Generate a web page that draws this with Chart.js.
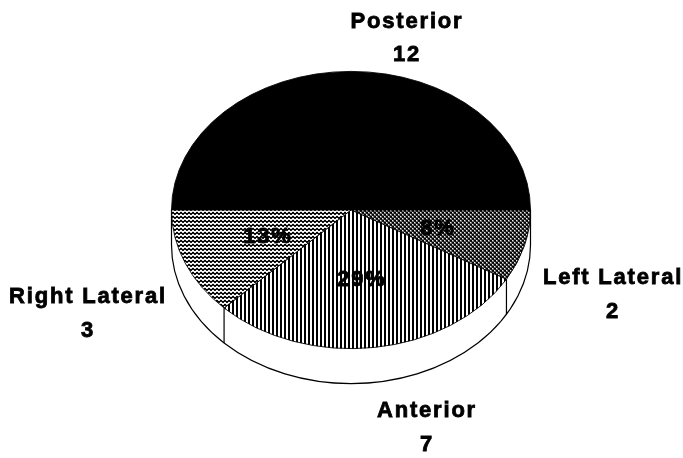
<!DOCTYPE html>
<html>
<head>
<meta charset="utf-8">
<style>
html,body{margin:0;padding:0;background:#fff;}
#wrap{position:relative;width:683px;height:458px;}
#wrap canvas{display:block}
</style>
<script src="https://cdn.jsdelivr.net/npm/chart.js@4"></script>
</head>
<body>
<div id="wrap"><canvas id="c"></canvas></div>
<script>
const categories = ['Posterior', 'Left Lateral', 'Anterior', 'Right Lateral'];
const counts = [12, 2, 7, 3];
const percentShown = [false, true, true, true];

const SQUASH = 139 / 180;
const DEPTH = 35;
const nameAnchors = [[407, 22], [613, 278], [427, 411], [88, 297]];
const countAnchors = [[407, 55], [613, 312], [427, 445], [88, 331]];
const percentAnchors = [null, [438, 229], [362, 280], [268, 237]];

function makePattern(w, h, paint) {
  const t = document.createElement('canvas');
  t.width = w; t.height = h;
  const g = t.getContext('2d');
  g.fillStyle = '#fff'; g.fillRect(0, 0, w, h);
  g.fillStyle = '#000';
  paint(g);
  const p = document.createElement('canvas').getContext('2d').createPattern(t, 'repeat');
  p.setTransform(new DOMMatrix().scale(1, 1 / SQUASH));
  return p;
}
const solid = '#000';
const dither = makePattern(4, 4, g => {
  g.fillRect(0, 0, 4, 4);
  g.fillStyle = '#777'; g.fillRect(0, 0, 2, 2); g.fillRect(2, 2, 2, 2);
  g.fillStyle = '#fff'; g.fillRect(0, 0, 1, 1); g.fillRect(2, 2, 1, 1);
});
const vertical = makePattern(4, 1, g => {
  g.fillRect(0, 0, 2, 1);
});
const wavy = makePattern(4, 4, g => {
  g.fillRect(0, 1, 4, 1);
  g.fillRect(0, 0, 2, 1);
  g.fillRect(2, 2, 2, 1);
});
const fills = [solid, dither, vertical, wavy];

const squashPlugin = {
  id: 'squash',
  beforeDatasetsDraw(chart) {
    const ctx = chart.ctx;
    const arcs = chart.getDatasetMeta(0).data;
    const { x, y, outerRadius: r } = arcs[0].getProps(['x', 'y', 'outerRadius'], true);
    const ry = r * SQUASH;
    ctx.save();
    ctx.fillStyle = '#fff';
    ctx.strokeStyle = '#000';
    ctx.lineWidth = 1.2;
    ctx.beginPath();
    ctx.moveTo(x - r, y);
    ctx.lineTo(x - r, y + DEPTH);
    ctx.ellipse(x, y + DEPTH, r, ry, 0, Math.PI, 0, true);
    ctx.lineTo(x + r, y);
    ctx.closePath();
    ctx.fill();
    ctx.stroke();
    arcs.forEach(a => {
      const end = a.getProps(['endAngle'], true).endAngle;
      const c = Math.cos(end), s = Math.sin(end);
      if (s > 0.01 && Math.abs(c) > 0.01 && end < Math.PI) {
        const px = x + r * c, py = y + ry * s;
        ctx.beginPath();
        ctx.moveTo(px, py);
        ctx.lineTo(px, py + DEPTH);
        ctx.stroke();
      }
    });
    ctx.restore();
    ctx.save();
    ctx.translate(0, y);
    ctx.scale(1, SQUASH);
    ctx.translate(0, -y);
  },
  afterDatasetsDraw(chart) {
    const ctx = chart.ctx;
    ctx.restore();
    const total = counts.reduce((a, b) => a + b, 0);
    ctx.save();
    ctx.fillStyle = '#000';
    ctx.textAlign = 'center';
    ctx.textBaseline = 'middle';
    ctx.font = 'bold 22px "Liberation Sans", Arial, sans-serif';
    ctx.letterSpacing = '1.8px';
    ctx.lineWidth = 0.8;
    ctx.strokeStyle = '#000';
    categories.forEach((name, i) => {
      ctx.fillText(name, nameAnchors[i][0], nameAnchors[i][1]);
      ctx.strokeText(name, nameAnchors[i][0], nameAnchors[i][1]);
      ctx.fillText(String(counts[i]), countAnchors[i][0], countAnchors[i][1]);
      ctx.strokeText(String(counts[i]), countAnchors[i][0], countAnchors[i][1]);
      if (percentShown[i]) {
        const t = Math.round(counts[i] / total * 100) + '%';
        ctx.fillText(t, percentAnchors[i][0], percentAnchors[i][1]);
        ctx.strokeText(t, percentAnchors[i][0], percentAnchors[i][1]);
      }
    });
    ctx.restore();
  }
};

new Chart(document.getElementById('c'), {
  type: 'pie',
  data: {
    labels: categories,
    datasets: [{
      data: counts,
      backgroundColor: fills,
      borderColor: '#000',
      borderWidth: 1,
      clip: false
    }]
  },
  options: {
    responsive: true,
    maintainAspectRatio: false,
    animation: false,
    rotation: -90,
    layout: { padding: { left: 171, right: 152, top: 30, bottom: 68 } },
    plugins: { legend: { display: false }, tooltip: { enabled: false } },
    events: []
  },
  plugins: [squashPlugin]
});
</script>
</body>
</html>
